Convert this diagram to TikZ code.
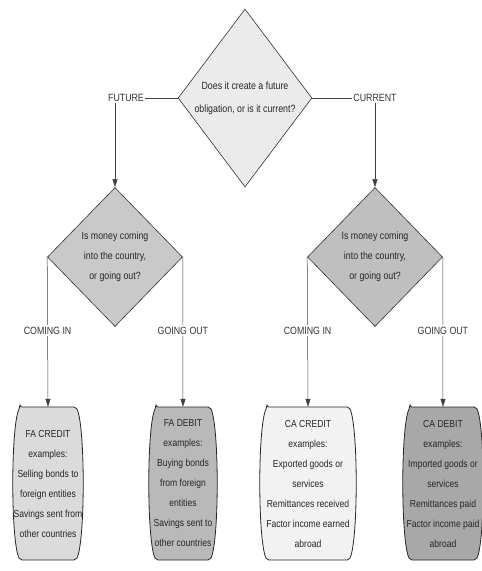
\documentclass[tikz,border=0pt]{standalone}
\usepackage{fontspec}
\setmainfont[FakeStretch=0.84]{Liberation Sans}
\usetikzlibrary{shapes.geometric,arrows.meta}

\newcommand\barrelbox[7]{% name, cx, top, bot, hw, fill, text
  \pgfmathsetmacro\bxl{#2-#5+7}\pgfmathsetmacro\bxr{#2+#5-7}%
  \pgfmathsetmacro\bcl{#2-#5-7/3}\pgfmathsetmacro\bcr{#2+#5+7/3}%
  \pgfmathsetmacro\byA{#3+0.12*(#4-#3)}\pgfmathsetmacro\byB{#4-0.12*(#4-#3)}%
  \pgfmathsetmacro\bym{(#3+#4)/2}\pgfmathsetmacro\bh{#4-#3}%
  \draw[boxline,fill=#6] (\bxl,#3) -- (\bxr,#3) .. controls (\bcr,\byA) and (\bcr,\byB) .. (\bxr,#4) -- (\bxl,#4) .. controls (\bcl,\byB) and (\bcl,\byA) .. (\bxl,#3) -- cycle;
  \node[boxtext, minimum height=\bh pt] (#1) at (#2,\bym) {#7};
}

\begin{document}
\begin{tikzpicture}[x=1pt,y=-1pt,
  dia/.style={diamond, draw=black!80, line width=0.6pt, inner sep=0pt, align=center,
    text=black!85, font=\fontsize{10.5}{20}\selectfont},
  boxline/.style={draw=black!85, line width=0.8pt, rounded corners=2pt},
  boxtext/.style={align=center, inner sep=0pt, text=black!85, font=\fontsize{10.2}{20}\selectfont},
  lbl/.style={fill=white, inner sep=1.5pt, text=black!80, font=\fontsize{10.5}{12}\selectfont},
  conn/.style={draw=black!75, line width=0.5pt},
  arr/.style={conn, -{Triangle[length=8pt,width=5pt]}}
]
\useasboundingbox (0,0) rectangle (482,571);

% diamonds
\node[dia, fill=gray!16, minimum width=124pt, minimum height=178pt,
      font=\fontsize{10.5}{23}\selectfont] (top) at (245,98)
  {Does it create a future\\obligation, or is it current?};
\node[dia, fill=gray!42, minimum width=135pt, minimum height=139pt] (left) at (115,257)
  {Is money coming\\into the country,\\or going out?};
\node[dia, fill=gray!50, minimum width=135pt, minimum height=139pt] (right) at (375,257)
  {Is money coming\\into the country,\\or going out?};

% boxes
\barrelbox{b1}{48}{407}{560}{35}{gray!28}{FA CREDIT\\examples:\\Selling bonds to\\foreign entities\\Savings sent from\\other countries}
\barrelbox{b2}{183}{407}{560}{34}{gray!55}{FA DEBIT\\examples:\\Buying bonds\\from foreign\\entities\\Savings sent to\\other countries}
\barrelbox{b3}{308}{407}{560}{48}{gray!10}{CA CREDIT\\examples:\\Exported goods or\\services\\Remittances received\\Factor income earned\\abroad}
\barrelbox{b4}{443}{407}{560}{40}{gray!68}{CA DEBIT\\examples:\\Imported goods or\\services\\Remittances paid\\Factor income paid\\abroad}

% connectors from top diamond
\draw[arr] (top.west) -| (left.north);
\node[lbl] (lfut) at (126,98) {FUTURE};
\draw[arr] (top.east) -| (right.north);
\node[lbl] (lcur) at (375,98) {CURRENT};

% connectors to boxes
\draw[arr] (left.west) -- node[lbl, pos=0.49] (lci1) {COMING IN} (b1.north);
\draw[arr] (left.east) -- node[lbl, pos=0.49] (lgo1) {GOING OUT} (b2.north);
\draw[arr] (right.west) -- node[lbl, pos=0.49] (lci2) {COMING IN} (b3.north);
\draw[arr] (right.east) -- node[lbl, pos=0.49] (lgo2) {GOING OUT} (b4.north);
\end{tikzpicture}
\end{document}
